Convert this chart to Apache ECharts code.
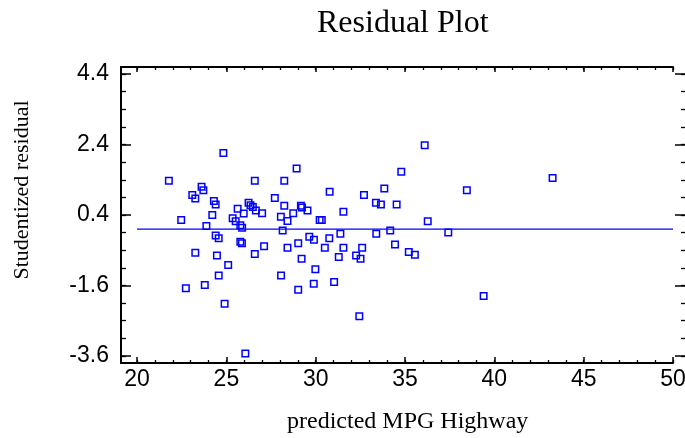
<!DOCTYPE html>
<html>
<head>
<meta charset="utf-8">
<script src="https://cdn.jsdelivr.net/npm/echarts@6/dist/echarts.min.js"></script>
<style>
  html, body { margin: 0; padding: 0; background: #fff; }
  #main { width: 685px; height: 438px; }
</style>
</head>
<body>
<div id="main"></div>
<script>
// predicted MPG Highway vs studentized residual
var predX = [
  24.83, 21.78, 26.59, 28.24, 28.93, 23.61, 23.71, 23.09, 23.26, 24.30,
  24.40, 26.24, 26.35, 26.48, 26.65, 27.00, 25.63, 25.97, 27.71, 28.24,
  28.74, 28.05, 28.42, 24.21, 22.47, 25.35, 25.52, 25.78, 25.88, 23.88,
  28.15, 24.40, 24.57, 25.78, 25.87, 27.11, 28.42, 23.26, 24.47, 26.59,
  25.10, 24.57, 28.06, 22.73, 23.79, 29.02, 24.90, 26.06, 29.17, 29.23,
  29.54, 29.02, 29.21, 36.10, 34.79, 30.78, 32.70, 33.84, 33.37, 33.65,
  34.53, 31.55, 30.22, 30.34, 36.27, 31.38, 33.39, 34.17, 29.64, 29.90,
  30.76, 30.51, 31.55, 32.60, 34.44, 35.21, 35.55, 31.29, 32.26, 32.51,
  29.98, 29.89, 31.03, 32.44, 43.26, 38.46, 37.42, 39.40
];
var residY = [
  2.16, 1.37, 1.37, 1.37, 1.72, 1.20, 1.10, 0.97, 0.87, 0.80,
  0.70, 0.75, 0.68, 0.63, 0.53, 0.45, 0.58, 0.44, 0.88, 0.66,
  0.45, 0.35, 0.23, 0.40, 0.26, 0.31, 0.22, 0.11, 0.04, 0.09,
  -0.04, -0.18, -0.26, -0.36, -0.40, -0.49, -0.53, -0.67, -0.75, -0.71,
  -1.02, -1.32, -1.32, -1.68, -1.59, -1.72, -2.12, -3.53, 0.66, 0.61,
  0.53, -0.40, -0.84, 2.38, 1.63, 1.06, 0.97, 1.15, 0.75, 0.70,
  0.70, 0.49, 0.26, 0.26, 0.22, -0.13, -0.13, -0.04, -0.22, -0.30,
  -0.26, -0.53, -0.53, -0.53, -0.44, -0.65, -0.73, -0.79, -0.75, -0.84,
  -1.14, -1.55, -1.50, -2.47, 1.45, 1.10, -0.10, -1.90
];
// zero line
var zeroX = [20, 50];
var zeroY = [0, 0];

// tick labels
var xTicks = [20, 25, 30, 35, 40, 45, 50];
var yTicks = [-3.6, -1.6, 0.4, 2.4, 4.4];

var xMin = 19.1, xMax = 50;
var yMin = -3.8, yMax = 4.6;

function minorsBetween(ticks, step) {
  var out = [];
  var n = Math.round((ticks[ticks.length - 1] - ticks[0]) / step);
  for (var i = 0; i <= n; i++) {
    out.push(Math.round((ticks[0] + i * step) * 100) / 100);
  }
  return out;
}
var xMinor = minorsBetween(xTicks, 1);
var yMinor = minorsBetween(yTicks, 0.5);

var sans = "'Liberation Sans', Arial, sans-serif";
var serif = "'Liberation Serif', 'Times New Roman', serif";

function tickAxis(pos, min, max, values, len, opts) {
  opts = opts || {};
  return {
    type: "value",
    position: pos,
    min: min,
    max: max,
    offset: opts.offset || 0,
    axisLine: {
      show: !!opts.line,
      onZero: false,
      lineStyle: { color: "#000", width: 2 }
    },
    axisTick: {
      show: true,
      inside: true,
      length: len,
      customValues: values,
      lineStyle: { color: "#000", width: opts.tw || 1.3 }
    },
    axisLabel: opts.labels
      ? {
          show: true,
          customValues: values,
          color: "#000",
          fontFamily: sans,
          fontSize: 23,
          margin: opts.margin
        }
      : { show: false },
    splitLine: { show: false }
  };
}

var chart = echarts.init(document.getElementById("main"));
var dataPts = predX.map(function(x, i) { return [x, residY[i]]; });
var zeroPts = zeroX.map(function(x, i) { return [x, zeroY[i]]; });

var option = {
  animation: false,
  backgroundColor: "#fff",
  grid: {
    left: 121,
    right: 12,
    top: 67,
    bottom: 75,
    containLabel: false,
    outerBoundsMode: "none"
  },
  xAxis: [
    tickAxis("bottom", xMin, xMax, xTicks, 6, { line: true, labels: true, margin: 5, tw: 1.5 }),
    tickAxis("bottom", xMin, xMax, xMinor, 3),
    tickAxis("top", xMin, xMax, xTicks, 5, { line: true, tw: 1.5 }),
    tickAxis("top", xMin, xMax, xMinor, 3)
  ],
  yAxis: [
    tickAxis("left", yMin, yMax, yTicks, 10, { line: true, labels: true, margin: 12, tw: 1.5 }),
    tickAxis("left", yMin, yMax, yMinor, 5),
    tickAxis("right", yMin, yMax, yTicks, 10, { offset: 12, tw: 1.5 }),
    tickAxis("right", yMin, yMax, yMinor, 4, { offset: 12 })
  ],
  graphic: [
    {
      type: "text",
      left: 317,
      top: 8,
      style: { text: "Residual Plot", font: "32px " + serif, fill: "#000" }
    },
    {
      type: "text",
      left: 287,
      top: 410,
      style: { text: "predicted MPG Highway", font: "24px " + serif, fill: "#000" }
    },
    {
      type: "text",
      x: 22,
      y: 190,
      rotation: Math.PI / 2,
      style: {
        text: "Studentized residual",
        font: "22px " + serif,
        fill: "#000",
        align: "center",
        verticalAlign: "middle"
      }
    }
  ],
  series: [
    {
      type: "line",
      data: zeroPts,
      xAxisIndex: 0,
      yAxisIndex: 0,
      symbol: "none",
      lineStyle: { color: "#0000ff", width: 1.4 },
      silent: true
    },
    {
      type: "scatter",
      data: dataPts,
      xAxisIndex: 0,
      yAxisIndex: 0,
      symbol: "rect",
      symbolSize: 6.5,
      itemStyle: {
        color: "rgba(0,0,0,0)",
        borderColor: "#0000ff",
        borderWidth: 1.5,
        opacity: 1
      }
    }
  ]
};
chart.setOption(option);
</script>
</body>
</html>
